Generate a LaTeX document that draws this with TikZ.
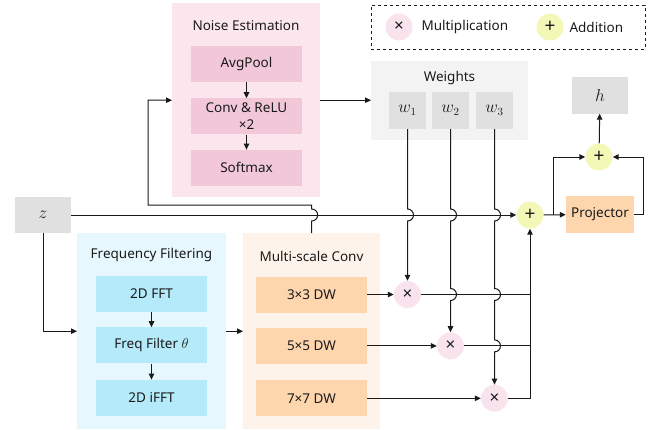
\documentclass[tikz,border=0pt]{standalone}
\usepackage{fontspec}
\setmainfont{Noto Sans}
\usetikzlibrary{arrows.meta, positioning, calc}
\definecolor{inkgray}{RGB}{26, 26, 26}
\definecolor{noiseback}{RGB}{252, 230, 238}
\definecolor{noisepink}{RGB}{242, 200, 217}
\definecolor{freqback}{RGB}{230, 248, 253}
\definecolor{freqblue}{RGB}{180, 234, 250}
\definecolor{convback}{RGB}{254, 243, 234}
\definecolor{convorange}{RGB}{253, 214, 174}
\definecolor{weightback}{RGB}{243, 243, 243}
\definecolor{boxgray}{RGB}{224, 224, 224}
\definecolor{mulpink}{RGB}{249, 228, 238}
\definecolor{addyellow}{RGB}{244, 248, 182}

\begin{document}
\begin{tikzpicture}[
    x=1pt, y=-1pt,
    font=\fontsize{13.5}{16}\selectfont, text=inkgray,
    panel/.style={anchor=north west, inner sep=0pt},
    block/.style={minimum width=111pt, minimum height=36pt, inner sep=0pt, align=center},
    wbox/.style={fill=boxgray, minimum width=37pt, minimum height=37pt, inner sep=0pt, font=\fontsize{16}{16}\selectfont},
    mul/.style={circle, fill=mulpink, minimum size=27pt, inner sep=0pt, font=\bfseries\fontsize{17}{17}\selectfont},
    add/.style={circle, fill=addyellow, minimum size=27pt, inner sep=0pt, font=\bfseries\fontsize{19}{19}\selectfont},
    edge/.style={-{Triangle[length=6pt, width=5.5pt]}, line width=1pt, draw=inkgray},
    wire/.style={line width=1pt, draw=inkgray}
]
\useasboundingbox (0,0) rectangle (659,429);

    % Legend
    \node[panel, draw=inkgray, dashed, line width=0.8pt, minimum width=274pt, minimum height=44pt] (legend) at (371,5) {};
    \node[mul] (legmul) at (399,27) {×};
    \node[anchor=west] (legmultext) at (418,27) {Multiplication};
    \node[add] (legadd) at (550,27) {+};
    \node[anchor=west] (legaddtext) at (566,27) {Addition};

    % Noise estimation
    \node[panel, fill=noiseback, minimum width=148pt, minimum height=194pt] (noise) at (172,3) {};
    \node (noisetitle) at (246,26) {Noise Estimation};
    \node[block, fill=noisepink] (avgpool) at (246.5,64) {AvgPool};
    \node[block, fill=noisepink, below=16pt of avgpool] (convrelu) {Conv \& ReLU\\[1pt]×2};
    \node[block, fill=noisepink, below=15pt of convrelu] (softmax) {Softmax};

    % Weights
    \node[panel, fill=weightback, minimum width=157pt, minimum height=79pt] (weights) at (371,61) {};
    \node (weightstitle) at (449.5,78) {Weights};
    \node[wbox] (w1) at (407.5,110.5) {$w_1$};
    \node[wbox] (w2) at (450.5,110.5) {$w_2$};
    \node[wbox] (w3) at (494.5,110.5) {$w_3$};

    % Output side
    \node[wbox, minimum width=56pt] (h) at (600,95) {$h$};
    \node[add] (addtop) at (599,157) {+};
    \node[block, fill=convorange, minimum width=68pt, minimum height=37pt] (proj) at (600,214.5) {Projector};
    \node[add] (addmid) at (530,215) {+};
    \node[wbox, minimum width=56pt, minimum height=36pt] (z) at (43,215) {$z$};

    % Frequency filtering
    \node[panel, fill=freqback, minimum width=149pt, minimum height=196pt] (freq) at (77,233) {};
    \node (freqtitle) at (151.5,255) {Frequency Filtering};
    \node[block, fill=freqblue] (fft) at (151.5,294) {2D FFT};
    \node[block, fill=freqblue, below=15pt of fft] (filter) {Freq Filter $\theta$};
    \node[block, fill=freqblue, below=16pt of filter] (ifft) {2D iFFT};

    % Multi-scale conv
    \node[panel, fill=convback, minimum width=137pt, minimum height=196pt] (multi) at (243,233) {};
    \node (multititle) at (311.5,256) {Multi-scale Conv};
    \node[block, fill=convorange] (dw3) at (311.5,294.5) {3×3 DW};
    \node[block, fill=convorange, below=15pt of dw3] (dw5) {5×5 DW};
    \node[block, fill=convorange, below=16pt of dw5] (dw7) {7×7 DW};

    \node[mul] (mul1) at (w1 |- dw3) {×};
    \node[mul] (mul2) at (w2 |- dw5) {×};
    \node[mul] (mul3) at (w3 |- dw7) {×};

    \coordinate (loopturn) at (148,205);
    \coordinate (projout) at ($(proj.east)+(9,0)$);
    \coordinate (branch) at ($(addmid.east)!0.45!(proj.west)$);

    % Inner arrows
    \draw[edge] (avgpool) -- (convrelu);
    \draw[edge] (convrelu) -- (softmax);
    \draw[edge] (fft) -- (filter);
    \draw[edge] (filter) -- (ifft);

    % Main flow
    \draw[edge] (z) |- (freq.west);
    \draw[edge] (freq.east) -- (multi.west);
    \draw[edge] (z) -- (addmid);
    \draw[edge] (addmid) -- (proj);
    \draw[edge] (addtop) -- (h);
    \draw[edge] (branch) |- (addtop);
    \draw[edge] (proj.east) -- (projout) |- (addtop);
    \draw[edge] (noise.east) -- (noise.east -| weights.west);

    % Loop back to noise estimation
    \draw[edge] (multi.north) -- ($(multi.north |- z)+(0,6)$)
        arc[start angle=-90, end angle=90, radius=6pt]
        -- (multi.north |- loopturn) -- (loopturn) |- (noise.west);

    % Weights to products
    \draw[edge] (w1) -- ($(w1 |- z)+(0,-6)$)
        arc[start angle=90, end angle=-90, radius=6pt] -- (mul1);
    \draw[edge] (w2) -- ($(w2 |- z)+(0,-6)$)
        arc[start angle=90, end angle=-90, radius=6pt]
        -- ($(w2 |- mul1)+(0,-6)$)
        arc[start angle=90, end angle=-90, radius=6pt] -- (mul2);
    \draw[edge] (w3) -- ($(w3 |- z)+(0,-6)$)
        arc[start angle=90, end angle=-90, radius=6pt]
        -- ($(w3 |- mul1)+(0,-6)$)
        arc[start angle=90, end angle=-90, radius=6pt]
        -- ($(w3 |- mul2)+(0,-6)$)
        arc[start angle=90, end angle=-90, radius=6pt] -- (mul3);

    % Products to sum
    \draw[edge] (dw3) -- (mul1);
    \draw[edge] (dw5) -- (mul2);
    \draw[edge] (dw7) -- (mul3);
    \draw[wire] (mul1) -- (mul1 -| addmid);
    \draw[wire] (mul2) -- (mul2 -| addmid);
    \draw[edge] (mul3) -| (addmid);
\end{tikzpicture}
\end{document}
